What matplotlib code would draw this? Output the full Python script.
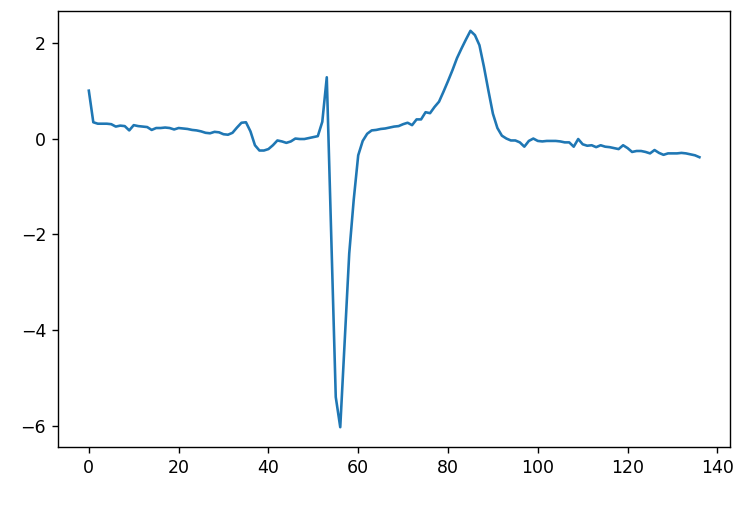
# -*- coding: utf-8 -*-
import matplotlib
matplotlib.use("Agg")
from matplotlib import pyplot as plt

# signal values (one per sample index)
signal_start = [1.00, 0.34, 0.31, 0.31, 0.31, 0.30, 0.25, 0.27, 0.26, 0.17,
                0.28, 0.26, 0.25, 0.24, 0.18, 0.22, 0.22, 0.23, 0.22, 0.19,
                0.22, 0.21, 0.20, 0.18, 0.17, 0.15, 0.12, 0.11, 0.14, 0.13,
                0.09, 0.08, 0.12, 0.23, 0.33, 0.34, 0.15, -0.14, -0.25, -0.25,
                -0.22, -0.14, -0.04, -0.06, -0.09, -0.06, 0.00, -0.01, -0.01, 0.01,
                0.03, 0.05, 0.35]
signal_qrs = [1.28, -2.10, -5.40, -6.03, -4.20, -2.40, -1.28, -0.35, -0.05, 0.10,
              0.17, 0.18, 0.20, 0.21, 0.23, 0.25, 0.26, 0.30, 0.33, 0.28]
signal_t = [0.40, 0.40, 0.55, 0.53, 0.66, 0.77, 0.98, 1.20, 1.43, 1.68,
            1.88, 2.07, 2.25, 2.16, 1.95, 1.50, 1.00, 0.52, 0.22, 0.06,
            0.00, -0.04, -0.04, -0.08, -0.17, -0.05, 0.00, -0.05]
signal_end = [-0.06, -0.05, -0.05, -0.05, -0.06, -0.08, -0.08, -0.17, -0.01,
              -0.12, -0.15, -0.14, -0.18, -0.14, -0.17, -0.18, -0.20, -0.22, -0.14,
              -0.20, -0.28, -0.26, -0.26, -0.28, -0.31, -0.24, -0.30, -0.34, -0.31,
              -0.31, -0.31, -0.30, -0.31, -0.33, -0.35, -0.39]

signal = signal_start + signal_qrs + signal_t + signal_end

fig = plt.figure(figsize=(736 / 125, 515 / 125), dpi=125)
ax = fig.add_axes([0.0792, 0.132, 0.9918 - 0.0792, 0.9786 - 0.132])
ax.plot(signal)
ax.set_xticks([0, 20, 40, 60, 80, 100, 120, 140])
ax.set_yticks([2, 0, -2, -4, -6])

fig.savefig("out.png", dpi=125)
